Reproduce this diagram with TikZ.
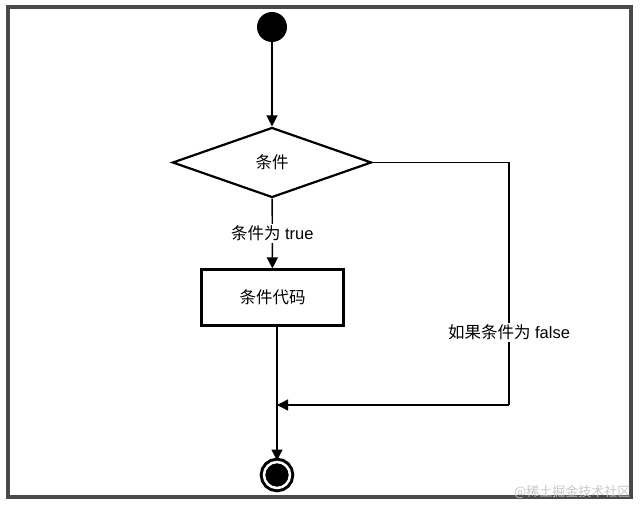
\documentclass[tikz,border=0pt]{standalone}
\usepackage{fontspec}
\setmainfont{Liberation Sans}
\newfontfamily\cjk{Noto Sans CJK SC}
\usepackage{xcolor}
\usepackage{tikz}
\usetikzlibrary{positioning, arrows.meta, calc, shapes.geometric}
\definecolor{framegray}{HTML}{4A4A4A}
\definecolor{markgray}{HTML}{C8C8C8}
\tikzset{
  flow/.style={line width=1.4pt, -{Triangle[length=11pt, width=11pt]}},
  boxline/.style={draw, line width=2.2pt},
  flowtext/.style={font=\fontsize{16.5}{19}\selectfont}
}

\begin{document}
\begin{tikzpicture}[x=1pt, y=-1pt]
    \useasboundingbox (0,0) rectangle (640,505);
    \draw[framegray, line width=3.3pt, fill=white] (8,7) rectangle (631,497);
    \node[circle, fill=black, minimum size=30pt, inner sep=0] (start) at (272,27) {};
    \node[diamond, boxline, minimum width=199pt, minimum height=70pt, inner sep=0, aspect=2.8, flowtext] (cond) at (272,162.5) {\cjk 条件};
    \node[boxline, minimum width=142pt, minimum height=56pt, flowtext] (code) at (272.5,297.5) {\cjk 条件代码};
    \node[circle, fill=black, draw=black, double=white, double distance=2.5pt, line width=3pt, minimum size=26pt, inner sep=0] (stop) at (277,475) {};
    \coordinate (merge) at (277,405);
    \coordinate (turn) at (509,405);
    \draw[flow] (start) -- (cond);
    \draw[flow] (cond) -- node[fill=white, inner sep=2pt, flowtext] (yes) {{\cjk 条件为} true} (code);
    \draw[line width=1.4pt] (cond.east) -| node[pos=0.85, fill=white, inner sep=2pt, flowtext] (no) {{\cjk 如果条件为} false} (turn);
    \draw[flow] (turn) -- (merge);
    \draw[flow] (merge |- code.south) -- (stop);
    \node[markgray, anchor=east, font=\fontsize{13}{15}\selectfont] (mark) at (634,492) {\cjk @稀土掘金技术社区};
\end{tikzpicture}
\end{document}
